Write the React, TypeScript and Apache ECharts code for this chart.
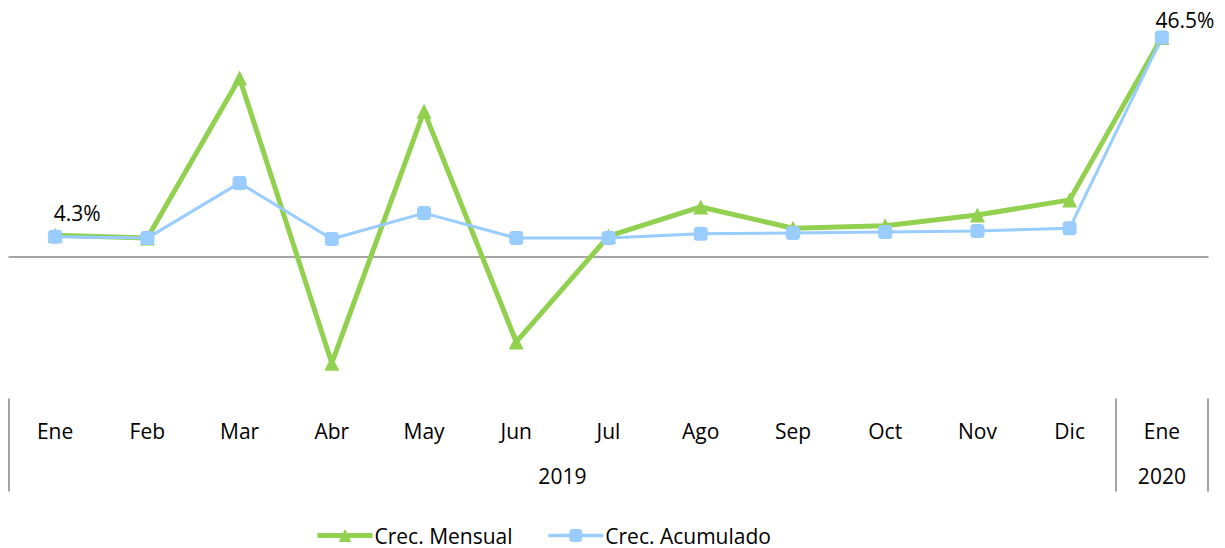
import React, { useEffect, useRef } from "react";
import * as echarts from "echarts";

const months = ["Ene", "Feb", "Mar", "Abr", "May", "Jun", "Jul", "Ago", "Sep", "Oct", "Nov", "Dic", "Ene"];
const mensual = [4.6, 4.0, 37.9, -22.5, 30.9, -18.0, 4.4, 10.6, 6.1, 6.6, 8.9, 12.1, 46.5];
const acumulado = [4.3, 4.0, 15.7, 3.8, 9.3, 4.0, 4.0, 4.9, 5.1, 5.3, 5.5, 6.1, 46.5];
const yearGroups = [
  { year: "2019", count: 12 },
  { year: "2020", count: 1 },
];
const labeledIdx = [0, 12];

export default function App() {
  const ref = useRef<HTMLDivElement>(null);
  useEffect(() => {
    document.body.style.margin = "0";
    const chart = echarts.init(ref.current!, null, { renderer: "svg" });
    const font = "'Open Sans', 'Noto Sans', sans-serif";
    const fs = 21;
    const bounds: number[] = [0];
    const centers: number[] = [];
    let acc = 0;
    yearGroups.forEach((g) => {
      centers.push(acc + g.count / 2);
      acc += g.count;
      bounds.push(acc);
    });
    const labelOffsets: Record<number, number[]> = { 0: [22, -1], 12: [23, 5] };
    chart.setOption({
      animation: false,
      textStyle: { fontFamily: font },
      grid: { left: 9, right: 17, top: 21, height: 377.6 },
      legend: {
        left: 310,
        top: 520,
        itemWidth: 55,
        itemHeight: 16,
        itemGap: 34,
        textStyle: { fontSize: fs, color: "#000", fontFamily: font, padding: [0, 0, 0, -3] },
        data: [
          { name: "Crec. Mensual", lineStyle: { width: 5, color: "#92D050" } },
          { name: "Crec. Acumulado", lineStyle: { width: 3.5, color: "#99CCFF" } },
        ],
      },
      xAxis: [
        {
          type: "category",
          data: months,
          axisLine: { show: true, onZero: true, lineStyle: { color: "#868686", width: 1.5 } },
          axisTick: { show: false },
          axisLabel: { show: false },
          splitLine: { show: false },
        },
        {
          type: "category",
          data: months,
          position: "bottom",
          axisLine: { show: false, onZero: false },
          axisTick: { show: false },
          axisLabel: { show: true, margin: 22, fontSize: fs, color: "#000", fontFamily: font },
        },
        {
          type: "value",
          min: 0,
          max: acc,
          position: "bottom",
          axisLine: { show: false, onZero: false },
          splitLine: { show: false },
          axisTick: {
            show: true,
            customValues: bounds,
            length: 93,
            lineStyle: { color: "#868686", width: 1.5 },
          },
          axisLabel: {
            show: true,
            customValues: centers,
            margin: 67,
            fontSize: fs,
            color: "#000",
            fontFamily: font,
            formatter: (v: number) => {
              const i = centers.findIndex((c) => Math.abs(c - v) < 1e-6);
              return i >= 0 ? yearGroups[i].year : "";
            },
          },
        },
      ],
      yAxis: {
        type: "value",
        min: -30,
        max: 50,
        show: false,
        splitLine: { show: false },
      },
      series: [
        {
          name: "Crec. Mensual",
          type: "line",
          xAxisIndex: 0,
          data: mensual,
          symbol: "triangle",
          symbolSize: 15,
          lineStyle: { color: "#92D050", width: 5 },
          itemStyle: { color: "#92D050" },
        },
        {
          name: "Crec. Acumulado",
          type: "line",
          xAxisIndex: 0,
          data: acumulado.map((v, i) =>
            labeledIdx.includes(i)
              ? {
                  value: v,
                  label: {
                    show: true,
                    position: "top",
                    offset: labelOffsets[i],
                    formatter: (p: any) => `${p.value}%`,
                    fontSize: fs,
                    color: "#000",
                    fontFamily: font,
                  },
                }
              : v
          ),
          symbol: "roundRect",
          symbolSize: 14,
          lineStyle: { color: "#99CCFF", width: 3 },
          itemStyle: { color: "#99CCFF" },
        },
      ],
    });
    return () => chart.dispose();
  }, []);
  return <div ref={ref} style={{ width: 1225, height: 548 }} />;
}
